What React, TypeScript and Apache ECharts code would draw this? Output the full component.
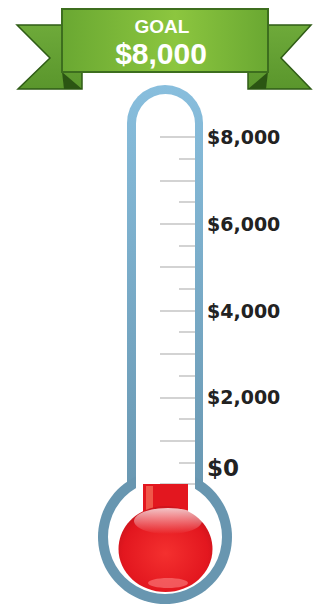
import React, { useEffect, useRef } from "react";
import * as echarts from "echarts";

const categories = ["Raised"];
const raised = [0];
const goalLabel = "$8,000";
const axisMin = 0;
const axisMax = 8000;
const tickStep = 1000;
const labelStep = 2000;

function money(v: number): string {
  const s = String(Math.round(v));
  return "$" + s.replace(/\B(?=(\d{3})+(?!\d))/g, ",");
}

export default function App() {
  const ref = useRef<HTMLDivElement>(null);
  useEffect(() => {
    if (!ref.current) return;
    const chart = echarts.init(ref.current, null, { renderer: "svg" });
    const tubeGrad = new echarts.graphic.LinearGradient(0, 0, 0, 1, [
      { offset: 0, color: "#88bedd" },
      { offset: 1, color: "#6896b0" },
    ]);
    const bannerGrad = new echarts.graphic.LinearGradient(0, 0, 1, 0, [
      { offset: 0, color: "#6aa832" },
      { offset: 0.55, color: "#8cc63f" },
      { offset: 1, color: "#6aa832" },
    ]);
    const tailGrad = new echarts.graphic.LinearGradient(0, 0, 0, 1, [
      { offset: 0, color: "#6eaa3a" },
      { offset: 1, color: "#5a962c" },
    ]);
    const ballGrad = new echarts.graphic.RadialGradient(0.5, 0.55, 0.6, [
      { offset: 0, color: "#f4302f" },
      { offset: 0.75, color: "#e3171f" },
      { offset: 1, color: "#c3121b" },
    ]);
    const shineGrad = new echarts.graphic.LinearGradient(0, 0, 0, 1, [
      { offset: 0, color: "rgba(255,255,255,0.75)" },
      { offset: 1, color: "rgba(255,255,255,0)" },
    ]);
    chart.setOption({
      animation: false,
      grid: { left: 135, right: 118, top: 137, bottom: 124 },
      xAxis: { type: "category", data: categories, show: false },
      yAxis: {
        type: "value",
        position: "right",
        min: axisMin,
        max: axisMax,
        interval: tickStep,
        splitLine: { show: false },
        axisLine: { show: false },
        axisTick: { show: true, inside: true, length: 35, lineStyle: { color: "#c4c4c4", width: 1.5 } },
        minorTick: { show: true, splitNumber: 2, length: 16, lineStyle: { color: "#c4c4c4", width: 1.5 } },
        axisLabel: {
          margin: 12,
          color: "#222222",
          fontFamily: "DejaVu Sans",
          fontWeight: "bold",
          fontSize: 19,
          formatter: (v: number) => {
            if (v === 0) return "{z|$0}";
            return v % labelStep === 0 ? money(v) : "";
          },
          rich: {
            z: {
              fontFamily: "DejaVu Sans",
              fontWeight: "bold",
              fontSize: 23,
              color: "#222222",
              padding: [0, 0, 32, 0],
            },
          },
        },
      },
      series: [
        {
          type: "bar",
          data: raised,
          barWidth: 45,
          itemStyle: { color: "#e3171f" },
          z: 20,
        },
      ],
      graphic: [
        // tube
        { type: "rect", z: -30, shape: { x: 127, y: 85, width: 76, height: 420, r: [38, 38, 0, 0] }, style: { fill: tubeGrad } },
        { type: "circle", z: -30, shape: { cx: 165, cy: 537, r: 67 }, style: { fill: "#6896b0" } },
        { type: "rect", z: -20, shape: { x: 136, y: 94, width: 59, height: 430, r: [30, 30, 0, 0] }, style: { fill: "#ffffff" } },
        { type: "circle", z: -20, shape: { cx: 165, cy: 537, r: 57 }, style: { fill: "#ffffff" } },
        // red neck and bulb
        { type: "rect", z: 30, shape: { x: 143, y: 484, width: 45, height: 40 }, style: { fill: "#e3171f" } },
        { type: "rect", z: 31, shape: { x: 146, y: 486, width: 7, height: 24 }, style: { fill: "#f0584a" } },
        { type: "ellipse", z: 32, shape: { cx: 165.5, cy: 549, rx: 47, ry: 43 }, style: { fill: ballGrad } },
        { type: "ellipse", z: 33, shape: { cx: 168, cy: 521, rx: 34, ry: 13 }, style: { fill: shineGrad } },
        { type: "ellipse", z: 33, shape: { cx: 168, cy: 583, rx: 20, ry: 5 }, style: { fill: "rgba(255,150,150,0.5)" } },
        // banner tails
        { type: "polygon", z: 40, shape: { points: [[17, 25], [82, 25], [82, 89], [18, 89], [50, 58]] }, style: { fill: tailGrad, stroke: "#2f5c16", lineWidth: 1.5 } },
        { type: "polygon", z: 40, shape: { points: [[311, 25], [248, 25], [248, 89], [311, 89], [281, 58]] }, style: { fill: tailGrad, stroke: "#2f5c16", lineWidth: 1.5 } },
        { type: "polygon", z: 41, shape: { points: [[62, 72], [64, 89], [82, 89]] }, style: { fill: "#2b5513" } },
        { type: "polygon", z: 41, shape: { points: [[268, 72], [266, 89], [248, 89]] }, style: { fill: "#2b5513" } },
        { type: "rect", z: 42, shape: { x: 62, y: 9, width: 206, height: 63 }, style: { fill: bannerGrad, stroke: "#3d6e1e", lineWidth: 2 } },
        { type: "text", z: 43, x: 162, y: 26, style: { text: "GOAL", fill: "#ffffff", font: "bold 19px 'Liberation Sans'", align: "center", verticalAlign: "middle" } },
        { type: "text", z: 43, x: 161, y: 53, style: { text: goalLabel, fill: "#ffffff", font: "bold 30px 'Liberation Sans'", align: "center", verticalAlign: "middle" } },
      ],
    });
    return () => chart.dispose();
  }, []);
  return <div ref={ref} style={{ position: "fixed", left: 0, top: 0, width: 313, height: 608, background: "#ffffff" }} />;
}
